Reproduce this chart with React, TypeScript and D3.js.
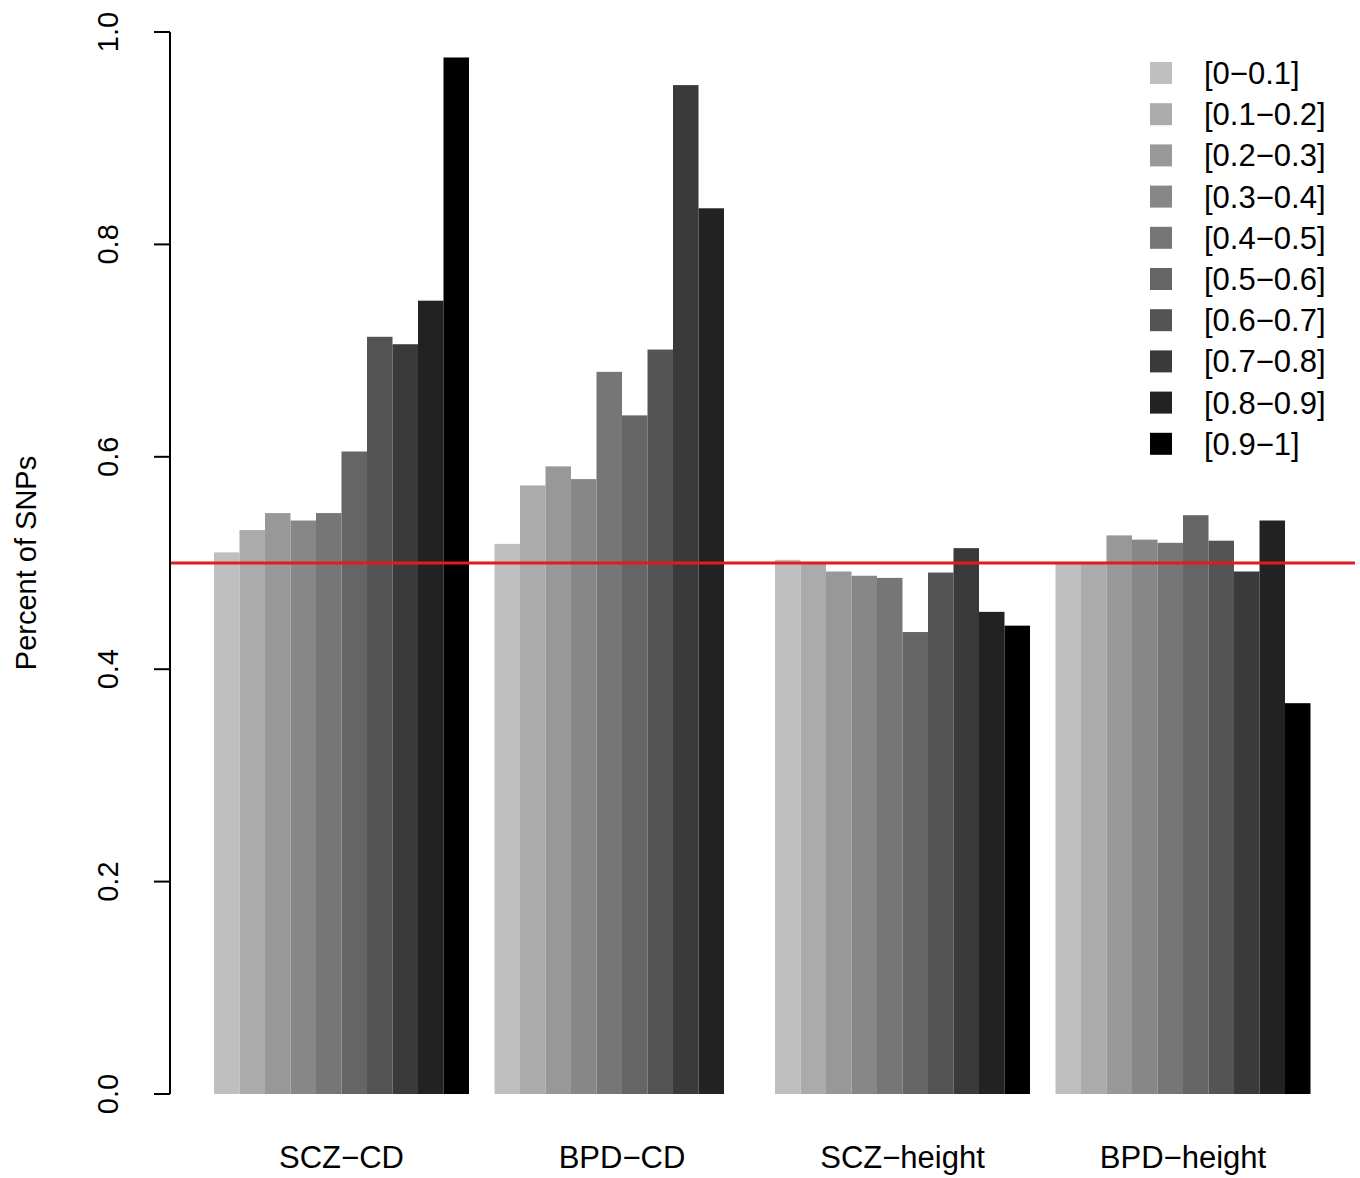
import React from "react";
import * as d3 from "d3";

const groups = ["SCZ\u2212CD", "BPD\u2212CD", "SCZ\u2212height", "BPD\u2212height"];
const bins = ["[0\u22120.1]", "[0.1\u22120.2]", "[0.2\u22120.3]", "[0.3\u22120.4]", "[0.4\u22120.5]", "[0.5\u22120.6]", "[0.6\u22120.7]", "[0.7\u22120.8]", "[0.8\u22120.9]", "[0.9\u22121]"];
const colors = ["#bfbfbf", "#ababab", "#989898", "#878787", "#767676", "#656565", "#545454", "#3a3a3a", "#222222", "#000000"];
const sczCD = [0.510, 0.531, 0.547, 0.540, 0.547, 0.605, 0.713, 0.706, 0.747, 0.976];
const bpdCD = [0.518, 0.573, 0.591, 0.579, 0.680, 0.639, 0.701, 0.950, 0.834, null];
const sczHeight = [0.503, 0.501, 0.492, 0.488, 0.486, 0.435, 0.491, 0.514, 0.454, 0.441];
const bpdHeight = [0.501, 0.501, 0.526, 0.522, 0.519, 0.545, 0.521, 0.492, 0.540, 0.368];
const series = [sczCD, bpdCD, sczHeight, bpdHeight];
const yTicks = [0, 0.2, 0.4, 0.6, 0.8, 1.0];

export default function App() {
  const W = 1360, H = 1178;
  const y = d3.scaleLinear().domain([0, 1]).range([1094, 32]);
  const bw = 25.5;
  const x0 = 214;
  const groupStart = (g: number) => x0 + g * 11 * bw;
  const font = "Liberation Sans, Arial, sans-serif";
  return (
    <svg width={W} height={H} style={{ position: "absolute", left: 0, top: 0 }} fontFamily={font}>
      {series.map((s, g) =>
        s.map((v, i) =>
          v == null ? null : (
            <rect key={g + "-" + i} x={groupStart(g) + i * bw} y={y(v)} width={bw} height={y(0) - y(v)} fill={colors[i]} />
          )
        )
      )}
      <line x1={170} x2={1355} y1={y(0.5)} y2={y(0.5)} stroke="#e41a1c" strokeWidth={3} />
      <line x1={170} x2={170} y1={y(0)} y2={y(1)} stroke="#000" strokeWidth={2} />
      {yTicks.map((t) => (
        <g key={t}>
          <line x1={154} x2={170} y1={y(t)} y2={y(t)} stroke="#000" strokeWidth={2} />
          <text transform={`translate(118,${y(t)}) rotate(-90)`} textAnchor="middle" fontSize={29}>{t.toFixed(1)}</text>
        </g>
      ))}
      <text transform={`translate(36,563) rotate(-90)`} textAnchor="middle" fontSize={29}>Percent of SNPs</text>
      {groups.map((gname, g) => (
        <text key={gname} x={groupStart(g) + 5 * bw} y={1168} textAnchor="middle" fontSize={31}>{gname}</text>
      ))}
      {bins.map((b, i) => (
        <g key={b}>
          <rect x={1150} y={62 + i * 41.2} width={22} height={22} fill={colors[i]} />
          <text x={1204} y={84 + i * 41.2} fontSize={31}>{b}</text>
        </g>
      ))}
    </svg>
  );
}
